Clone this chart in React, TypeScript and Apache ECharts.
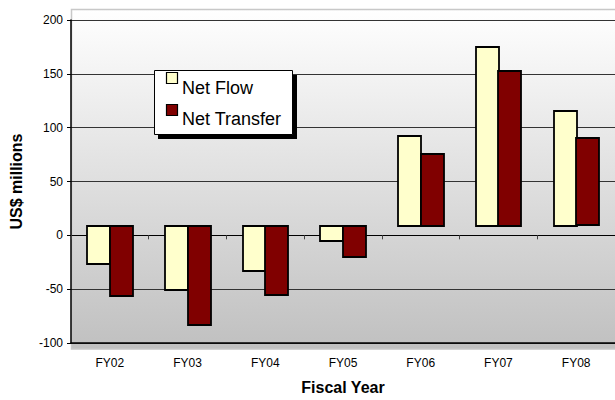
import React, { useEffect, useRef } from "react";
import * as echarts from "echarts";

const categories = ["FY02", "FY03", "FY04", "FY05", "FY06", "FY07", "FY08"];
const netFlow = [-26, -50, -32.5, -4.5, 92.5, 175, 115.5];
const netTransfer = [-56, -82.5, -55, -19.5, 76, 152.5, 90];
const seriesNames = ["Net Flow", "Net Transfer"];
const seriesColors = ["#FFFFCC", "#800000"];
const BAR_BASE = 9;
const yTicks = { min: -100, max: 200, interval: 50 };

const FONT = "'Liberation Sans', Arial, sans-serif";

function makeRender(side: number, color: string) {
  return (params: any, api: any) => {
    const idx = api.value(0);
    const v = api.value(1);
    const base = api.coord([idx, BAR_BASE]);
    const top = api.coord([idx, v]);
    const bw = api.size([1, 0])[0];
    const w = bw * 0.29;
    const x = side === 0 ? base[0] - w : base[0];
    return {
      type: "rect",
      shape: {
        x: Math.round(x),
        y: Math.round(Math.min(base[1], top[1])),
        width: Math.round(w),
        height: Math.round(Math.abs(top[1] - base[1])),
      },
      style: { fill: color, stroke: "#000", lineWidth: 1.8 },
    };
  };
}

export default function App() {
  const ref = useRef<HTMLDivElement>(null);
  useEffect(() => {
    if (!ref.current) return;
    const chart = echarts.init(ref.current, null, { renderer: "svg" });
    const option: any = {
      animation: false,
      textStyle: { fontFamily: FONT },
      grid: { left: 71, right: 0, top: 20, bottom: 51, containLabel: false },
      graphic: [
        {
          type: "rect",
          z: -10,
          silent: true,
          shape: { x: 71.5, y: 9.5, width: 560, height: 339.5 },
          style: {
            fill: new echarts.graphic.LinearGradient(0, 0, 0, 1, [
              { offset: 0, color: "#ffffff" },
              { offset: 1, color: "#c0c0c0" },
            ]),
            stroke: "#c8c8c8",
            lineWidth: 1.5,
          },
        },
        {
          type: "rect",
          z: 100,
          shape: { x: 158, y: 75, width: 139, height: 64 },
          style: { fill: "#000" },
        },
        {
          type: "rect",
          z: 101,
          shape: { x: 154.5, y: 70.5, width: 138, height: 64 },
          style: { fill: "#fff", stroke: "#000", lineWidth: 1 },
        },
        {
          type: "rect",
          z: 102,
          shape: { x: 166.5, y: 72.5, width: 11, height: 11 },
          style: { fill: seriesColors[0], stroke: "#000", lineWidth: 1.2 },
        },
        {
          type: "rect",
          z: 102,
          shape: { x: 166.5, y: 104.5, width: 11, height: 11 },
          style: { fill: seriesColors[1], stroke: "#000", lineWidth: 1.2 },
        },
        {
          type: "text",
          z: 102,
          x: 182,
          y: 88,
          style: {
            text: seriesNames[0],
            font: `18px ${FONT}`,
            fill: "#000",
            verticalAlign: "middle",
          },
        },
        {
          type: "text",
          z: 102,
          x: 182,
          y: 119,
          style: {
            text: seriesNames[1],
            font: `18px ${FONT}`,
            fill: "#000",
            verticalAlign: "middle",
          },
        },
      ],
      xAxis: [
        {
          type: "category",
          data: categories,
          position: "bottom",
          axisLine: { onZero: false, lineStyle: { color: "#000", width: 1.5 } },
          axisTick: { show: false },
          axisLabel: { color: "#000", fontSize: 12, margin: 14, fontFamily: FONT },
          splitLine: { show: false },
          name: "Fiscal Year",
          nameLocation: "middle",
          nameGap: 36,
          nameTextStyle: { fontSize: 16, fontWeight: "bold", color: "#000", fontFamily: FONT },
        },
        {
          type: "category",
          data: categories,
          position: "bottom",
          axisLine: { onZero: true, lineStyle: { color: "#000", width: 1.2 } },
          axisTick: { show: true, length: 4, lineStyle: { color: "#444" } },
          axisLabel: { show: false },
          splitLine: { show: false },
        },
      ],
      yAxis: {
        type: "value",
        min: yTicks.min,
        max: yTicks.max,
        interval: yTicks.interval,
        axisLine: { show: true, lineStyle: { color: "#000", width: 1.5 } },
        axisTick: { show: true, length: 4, lineStyle: { color: "#000" } },
        axisLabel: { color: "#000", fontSize: 12, margin: 8, fontFamily: FONT },
        splitLine: { show: true, lineStyle: { color: "#333333", width: 1.2 } },
        name: "US$ millions",
        nameLocation: "middle",
        nameGap: 47,
        nameTextStyle: { fontSize: 16, fontWeight: "bold", color: "#000", fontFamily: FONT },
      },
      series: [
        {
          name: seriesNames[0],
          type: "custom",
          xAxisIndex: 0,
          yAxisIndex: 0,
          z: 5,
          renderItem: makeRender(0, seriesColors[0]),
          encode: { x: 0, y: 1 },
          data: categories.map((_, i) => [i, netFlow[i]]),
        },
        {
          name: seriesNames[1],
          type: "custom",
          xAxisIndex: 0,
          yAxisIndex: 0,
          z: 5,
          renderItem: makeRender(1, seriesColors[1]),
          encode: { x: 0, y: 1 },
          data: categories.map((_, i) => [i, netTransfer[i]]),
        },
      ],
    };
    chart.setOption(option);
    return () => chart.dispose();
  }, []);
  return <div ref={ref} style={{ width: 615, height: 400, position: "absolute", left: 0, top: 0 }} />;
}
